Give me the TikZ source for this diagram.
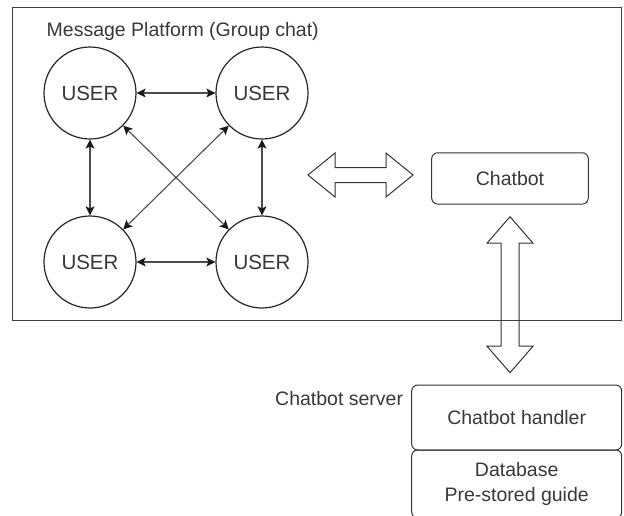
\documentclass[tikz,border=0pt]{standalone}
\usepackage{fontspec}
\setmainfont{Liberation Sans}
\usetikzlibrary{arrows.meta}
\tikzset{
      frame/.style={draw=black!75, line width=1},
      plaintext/.style={inner sep=0, text=black!78, font=\fontsize{19.5}{25}\selectfont},
      user/.style={circle, draw=black!85, line width=1.2, minimum size=92pt, inner sep=0,
            text=black!78, font=\fontsize{20.5}{25}\selectfont},
      talk/.style={{Stealth[length=9pt,width=9pt,inset=2pt,black!90]}-{Stealth[length=9pt,width=9pt,inset=2pt,black!90]},
            draw=black!70, line width=1.1},
      box/.style={rectangle, rounded corners=6pt, draw=black!80, line width=1, inner sep=0,
            text=black!78, align=center, font=\fontsize{19.5}{25}\selectfont},
      fatarrow/.style={draw=black!80, line width=1, line join=miter},
}

\begin{document}
\begin{tikzpicture}[x=1pt, y=-1pt]
        \path[use as bounding box, clip] (0,0) rectangle (624,515);

        % Group chat
        \draw[frame] (12,7.5) rectangle (621.5,320);
        \node[plaintext, anchor=base west] (title) at (46.5,36.5) {Message Platform (Group chat)};

        \node[user] (u1) at (90,93) {USER};
        \node[user] (u2) at (262,93) {USER};
        \node[user] (u3) at (90,262) {USER};
        \node[user] (u4) at (262,262) {USER};

        \draw[talk] (u1) -- (u2);
        \draw[talk] (u3) -- (u4);
        \draw[talk] (u1) -- (u3);
        \draw[talk] (u2) -- (u4);
        \draw[talk] (u1) -- (u4);
        \draw[talk] (u2) -- (u3);

        % Chatbot
        \node[box, minimum width=156.6pt, minimum height=51.3pt] (bot) at (510,178.4) {Chatbot};

        \draw[fatarrow, shift={(360.5,175)}] (-52.5,0) -- (-25.5,-22) -- (-25.5,-7.5) -- (25.5,-7.5)
              -- (25.5,-22) -- (52.5,0) -- (25.5,22) -- (25.5,7.5) -- (-25.5,7.5) -- (-25.5,22) -- cycle;
        \draw[fatarrow, shift={(510,294.7)}] (0,-78) -- (23,-51.5) -- (9,-51.5) -- (9,51.5)
              -- (23,51.5) -- (0,78) -- (-23,51.5) -- (-9,51.5) -- (-9,-51.5) -- (-23,-51.5) -- cycle;

        % Server
        \node[plaintext, anchor=base west] (srv) at (275,405) {Chatbot server};
        \node[box, minimum width=210pt, minimum height=65pt] (handler) at (516.7,417.5) {Chatbot handler};
        \node[box, minimum width=210pt, minimum height=68pt] (db) at (516.7,484) {Database\\Pre-stored guide};

\end{tikzpicture}
\end{document}
